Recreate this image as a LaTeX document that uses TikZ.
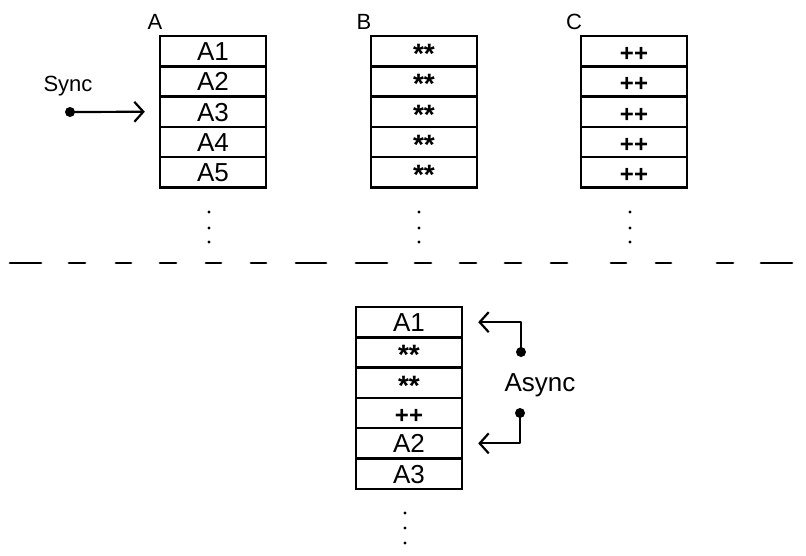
\documentclass[tikz,border=0pt]{standalone}
\usepackage{fontspec}
\setmainfont{Liberation Sans}
\usetikzlibrary{arrows.meta,calc}
\tikzset{
  cell/.style={draw, line width=2.4pt, minimum width=106pt, minimum height=30.3pt, inner sep=0pt,
    font=\fontsize{26}{28}\selectfont, text height=19pt, text depth=0pt},
  pt/.style={circle, fill=black, inner sep=0pt, minimum size=10pt},
  conn/.style={line width=2.2pt, line cap=round, line join=round, -{Straight Barb[length=9pt,width=20pt,line width=2.2pt]}},
  lbl/.style={font=\fontsize{22}{26}\selectfont, inner sep=0pt},
  dsh/.style={line width=2.8pt, line cap=round}
}
\newcommand{\mystars}{\raisebox{-3pt}[8pt][0pt]{\fontsize{28}{30}\selectfont\bfseries **}}
\newcommand{\myplus}{\raisebox{-1pt}[15pt][0pt]{\fontsize{24}{26}\selectfont\bfseries ++}}
\begin{document}
\begin{tikzpicture}[x=1pt,y=-1pt]
\useasboundingbox (0,0) rectangle (806,555);
% column A
\foreach \t [count=\i] in {A1,A2,A3,A4,A5}
  \node[cell] (a\i) at (213,{36+15.15+30.3*(\i-1)}) {\t};
\node[lbl] (la) at (155,22) {A};
% column B
\foreach \i in {1,...,5}
  \node[cell] (b\i) at (424,{36+15.15+30.3*(\i-1)}) {\mystars};
\node[lbl] (lb) at (364,22) {B};
% column C
\foreach \i in {1,...,5}
  \node[cell] (c\i) at (634,{36+15.15+30.3*(\i-1)}) {\myplus};
\node[lbl] (lc) at (574,22) {C};
% vertical dots
\foreach \x in {209,419,630}
  \foreach \y in {212,228,242}
    \fill (\x,\y) circle (1.7pt);
% Sync
\node[font=\fontsize{22}{26}\selectfont, inner sep=0pt] (sync) at (68,86) {Sync};
\node[pt] (sdot) at (70,112) {};
\draw[conn] (sdot.center) -- ([xshift=-14pt]a3.west);
% dashed separator
\foreach \s/\e in {10/41,69/85,116/131,160/176,206/221,251/266,296/326,356/387,415/431,460/476,505/521,551/567,611/626,656/671,717/733,761/792}
  \draw[dsh] (\s,263) -- (\e,263);
% bottom column
\node[cell] (m1) at (409,{307+15.15}) {A1};
\node[cell] (m2) at (409,{307+15.15+30.3}) {\mystars};
\node[cell] (m3) at (409,{307+15.15+60.6}) {\mystars};
\node[cell] (m4) at (409,{307+15.15+90.9}) {\myplus};
\node[cell] (m5) at (409,{307+15.15+121.2}) {A2};
\node[cell] (m6) at (409,{307+15.15+151.5}) {A3};
\foreach \y in {513,528,543}
  \fill (405,\y) circle (1.7pt);
% Async
\node[font=\fontsize{26}{30}\selectfont, inner sep=0pt] (async) at (540,385) {Async};
\node[pt] (ad1) at (521,352) {};
\node[pt] (ad2) at (520,413) {};
\draw[conn] (ad1.center) |- ([xshift=15pt]m1.east);
\draw[conn] (ad2.center) |- ([xshift=15pt]m5.east);
\end{tikzpicture}
\end{document}
